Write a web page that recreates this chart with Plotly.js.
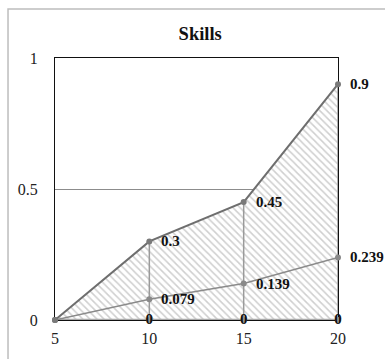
<!DOCTYPE html>
<html>
<head>
<meta charset="utf-8">
<script src="https://cdn.plot.ly/plotly-3.0.1.min.js"></script>
<style>
  html, body { margin: 0; padding: 0; background: #fff; }
  #chart { width: 385px; height: 359px; }
</style>
</head>
<body>
<div id="chart"></div>
<script>
// Skill level at each step
const steps = [5, 10, 15, 20];
const upperSkill = [0, 0.3, 0.45, 0.9];
const lowerSkill = [0, 0.079, 0.139, 0.239];
const baseSkill = [0, 0, 0, 0];

const serif = '"Liberation Serif", "Times New Roman", serif';
const labelFont = { family: serif, size: 15, color: '#111', weight: 'bold' };

// vertical drop lines from the baseline up to the upper series
const dropX = [], dropY = [];
steps.forEach((x, i) => {
  if (i === 0) return;
  dropX.push(x, x, null);
  dropY.push(baseSkill[i], upperSkill[i], null);
});

// value labels to the right of each point (the first point has none)
const sideLabels = [];
[upperSkill, lowerSkill].forEach(series => {
  series.forEach((v, i) => {
    if (i === 0) return;
    sideLabels.push({
      x: steps[i], y: v, xref: 'x', yref: 'y',
      text: String(v), showarrow: false,
      xanchor: 'left', yanchor: 'middle', xshift: 10,
      font: labelFont
    });
  });
});

const traces = [
  {
    x: steps, y: upperSkill, type: 'scatter', mode: 'lines',
    fill: 'tozeroy', fillcolor: 'white',
    fillpattern: { shape: '\\', fgcolor: '#cfcfcf', bgcolor: 'white', size: 5, solidity: 0.3 },
    line: { width: 0 }, hoverinfo: 'skip', cliponaxis: false
  },
  {
    x: dropX, y: dropY, type: 'scatter', mode: 'lines',
    line: { color: '#9a9a9a', width: 1.5 }, hoverinfo: 'skip', cliponaxis: false
  },
  {
    x: steps, y: baseSkill, type: 'scatter', mode: 'lines+markers+text',
    line: { color: '#a8a8a8', width: 2.5 },
    marker: { color: '#9a9a9a', size: 6 },
    text: baseSkill.map((v, i) => (i === 0 ? '' : String(v))),
    textposition: 'middle center',
    textfont: labelFont, cliponaxis: false
  },
  {
    x: steps, y: lowerSkill, type: 'scatter', mode: 'lines+markers',
    line: { color: '#8a8a8a', width: 1.5 },
    marker: { color: '#8a8a8a', size: 6 },
    cliponaxis: false
  },
  {
    x: steps, y: upperSkill, type: 'scatter', mode: 'lines+markers',
    line: { color: '#6e6e6e', width: 2 },
    marker: { color: '#7a7a7a', size: 6 },
    cliponaxis: false
  }
];

const layout = {
  width: 385, height: 359,
  margin: { l: 55, r: 47, t: 58, b: 39 },
  paper_bgcolor: 'white', plot_bgcolor: 'white',
  showlegend: false,
  font: { family: serif },
  title: {
    text: 'Skills', x: 0.52, xanchor: 'center', y: 0.908, yanchor: 'middle',
    font: { family: serif, size: 18.5, color: '#111', weight: 'bold' }
  },
  xaxis: {
    range: [5, 20], tickvals: steps, ticktext: steps.map(String),
    showgrid: false, zeroline: false,
    showline: true, linecolor: '#111', linewidth: 1, mirror: true,
    ticks: '', ticklabelstandoff: 4, layer: 'below traces',
    tickfont: { family: serif, size: 16, color: '#222' }
  },
  yaxis: {
    range: [0, 1], tickvals: [0, 0.5, 1], ticktext: ['0', '0.5', '1'],
    showgrid: true, gridcolor: '#8c8c8c', gridwidth: 1, zeroline: false,
    showline: true, linecolor: '#111', linewidth: 1, mirror: true,
    ticks: 'outside', ticklen: 13, tickcolor: 'rgba(0,0,0,0)', layer: 'below traces',
    tickfont: { family: serif, size: 16, color: '#222' }
  },
  annotations: sideLabels,
  shapes: [
    {
      type: 'rect', xref: 'paper', yref: 'paper',
      x0: -0.166, x1: 1.2, y0: -0.2, y1: 1.187,
      line: { color: '#bdbdbd', width: 1.5 }, fillcolor: 'rgba(0,0,0,0)', layer: 'below'
    }
  ]
};

Plotly.newPlot('chart', traces, layout, { displayModeBar: false, staticPlot: true });
</script>
</body>
</html>
